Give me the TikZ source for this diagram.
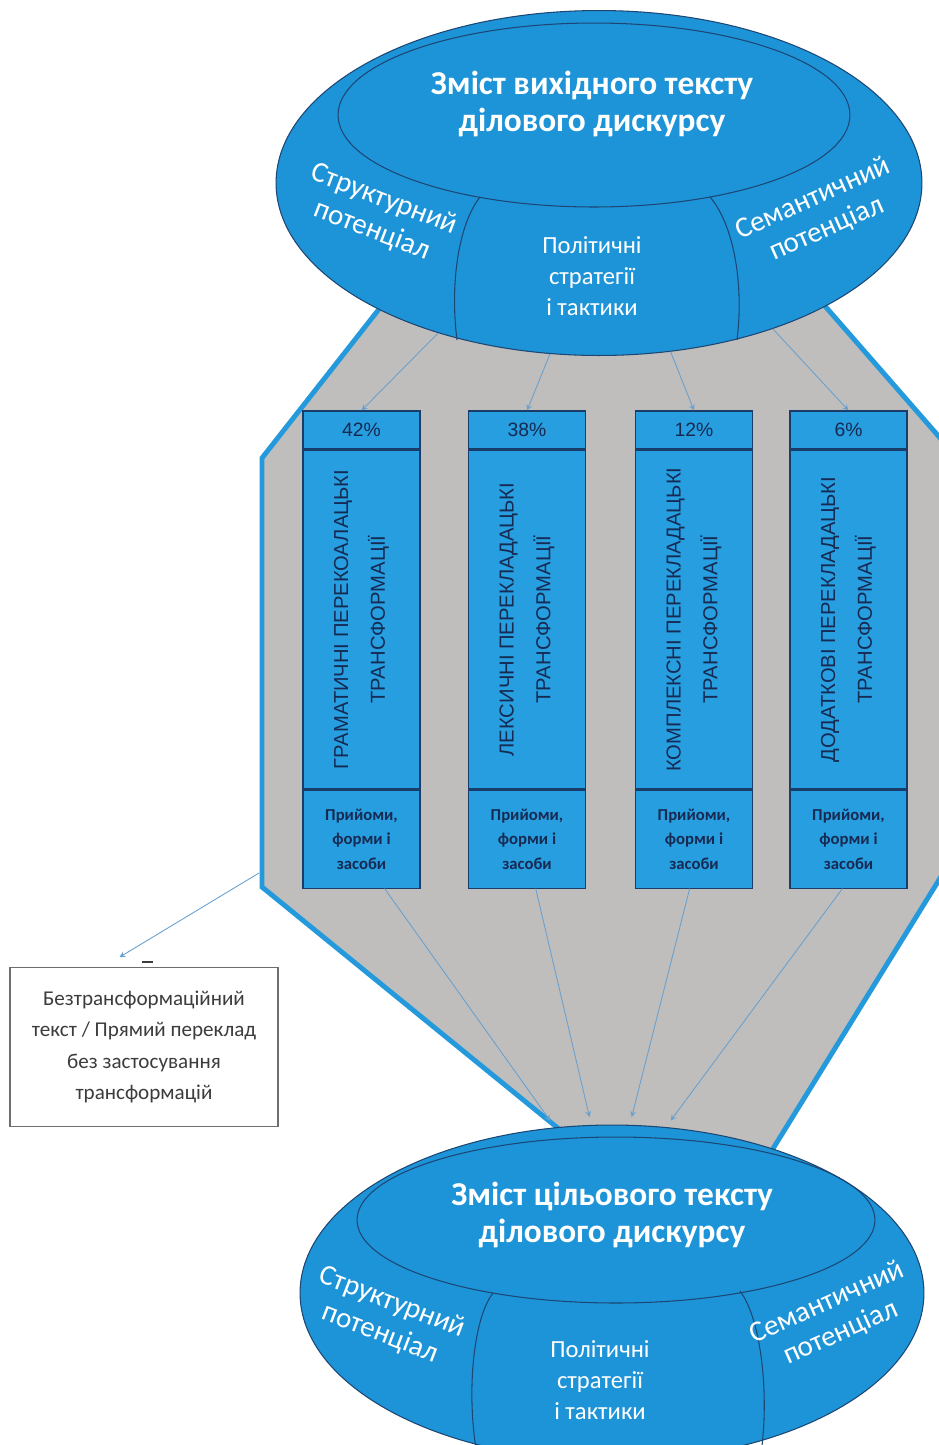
\documentclass[tikz,border=0pt]{standalone}
\usepackage{fontspec}
\setmainfont{Carlito}
\newfontfamily\arialfont{Liberation Sans}
\usepackage{xcolor}
\usepackage{tikz}
\usetikzlibrary{positioning,calc}
\usetikzlibrary{shapes.geometric, arrows}
\definecolor{ovalblue}{RGB}{30,148,216}
\definecolor{boxblue}{RGB}{38,158,224}
\definecolor{ovalline}{RGB}{28,70,115}
\definecolor{boxline}{RGB}{25,60,105}
\definecolor{rimblue}{RGB}{36,154,220}
\definecolor{fieldgray}{RGB}{192,190,188}
\definecolor{flowblue}{RGB}{105,160,205}
\definecolor{boxtext}{RGB}{22,42,82}
\definecolor{plaintext}{RGB}{60,60,60}
\definecolor{plainline}{RGB}{110,110,110}
\tikzstyle{ovalbig} = [ellipse, draw=ovalline, line width=0.6pt, fill=ovalblue, inner sep=0pt]
\tikzstyle{ovalin} = [ellipse, draw=ovalline, line width=0.6pt, inner sep=0pt]
\tikzstyle{ovaltitle} = [white, align=center, font=\bfseries\fontsize{19}{21}\selectfont]
\tikzstyle{ovaltext} = [white, align=center, font=\fontsize{16.5}{19}\selectfont]
\tikzstyle{politext} = [white, align=center, font=\fontsize{14}{17.6}\selectfont]
\tikzstyle{pctbox} = [rectangle, draw=boxline, line width=0.6pt, fill=boxblue, minimum width=2.34cm, minimum height=0.76cm, inner sep=0pt, text=boxtext, font=\arialfont\fontsize{11}{13}\selectfont]
\tikzstyle{typebox} = [pctbox, minimum height=6.78cm]
\tikzstyle{typetext} = [rotate=90, align=center, text=boxtext, font=\arialfont\fontsize{11.5}{21}\selectfont]
\tikzstyle{waybox} = [pctbox, minimum height=1.96cm, align=center, font=\bfseries\fontsize{9.5}{14}\selectfont]
\tikzstyle{plainbox} = [rectangle, draw=plainline, line width=0.6pt, fill=white, minimum width=5.36cm, minimum height=3.18cm, align=center, text=plaintext, font=\fontsize{12}{18}\selectfont]
\tikzstyle{flowarrow} = [->, >=stealth, draw=flowblue, line width=0.5pt]

\begin{document}
\begin{tikzpicture}[x=0.02cm, y=-0.02cm]
    \useasboundingbox (0,0) rectangle (939,1445);
    \clip (0,0) rectangle (939,1445);
    % grey field between the two ovals
    \draw[draw=rimblue, line width=2.8pt, fill=fieldgray, line join=miter] (394,290) -- (262,458) -- (262,887) -- (597,1160) -- (766,1160) -- (955,854) -- (955,455) -- (811,290) -- cycle;
    \coordinate (rimL) at (259,873);
    % source oval
    \node[ovalbig, minimum width=12.92cm, minimum height=6.9cm] (src) at (599,183) {};
    \node[ovalin, minimum width=10.24cm, minimum height=3.68cm] (srcIn) at (594,115) {};
    \draw[ovalline, line width=0.6pt] (480,197) .. controls (458,225) and (450,285) .. (457,340);
    \draw[ovalline, line width=0.6pt] (710,197) .. controls (734,225) and (744,285) .. (737,340);
    \node[ovaltitle] (srcHead) at (592,104) {Зміст вихідного тексту\\ділового дискурсу};
    \node[ovaltext, rotate=-21] (srcStruct) at (378,215) {Структурний\\потенціал};
    \node[politext] (srcPolit) at (592,276) {Політичні\\стратегії\\і тактики};
    \node[ovaltext, rotate=24] (srcSem) at (820,214) {Семантичний\\потенціал};
    % target oval
    \node[ovalbig, minimum width=12.48cm, minimum height=6.72cm] (tgt) at (612,1293) {};
    \node[ovalin, minimum width=10.36cm, minimum height=3.32cm] (tgtIn) at (616,1220) {};
    \draw[ovalline, line width=0.6pt] (493,1293) .. controls (472,1320) and (466,1400) .. (478,1460);
    \draw[ovalline, line width=0.6pt] (740,1291) .. controls (762,1320) and (770,1400) .. (760,1460);
    \node[ovaltitle] (tgtHead) at (612,1215) {Зміст цільового тексту\\ділового дискурсу};
    \node[ovaltext, rotate=-21] (tgtStruct) at (386,1318) {Структурний\\потенціал};
    \node[politext] (tgtPolit) at (600,1380) {Політичні\\стратегії\\і тактики};
    \node[ovaltext, rotate=24] (tgtSem) at (834,1318) {Семантичний\\потенціал};
    % columns
    \node[pctbox] (h1) at (361.5,430) {42\%};
    \node[typebox, below=0pt of h1] (m1) {};
    \node[waybox, below=0pt of m1] (l1) {Прийоми,\\форми і\\засоби};
    \node[typetext] (t1) at (m1) {ГРАМАТИЧНІ ПЕРЕКОАЛАЦЬКІ\\ТРАНСФОРМАЦІЇ};
    \node[pctbox] (h2) at (527,430) {38\%};
    \node[typebox, below=0pt of h2] (m2) {};
    \node[waybox, below=0pt of m2] (l2) {Прийоми,\\форми і\\засоби};
    \node[typetext] (t2) at (m2) {ЛЕКСИЧНІ ПЕРЕКЛАДАЦЬКІ\\ТРАНСФОРМАЦІЇ};
    \node[pctbox] (h3) at (694,430) {12\%};
    \node[typebox, below=0pt of h3] (m3) {};
    \node[waybox, below=0pt of m3] (l3) {Прийоми,\\форми і\\засоби};
    \node[typetext] (t3) at (m3) {КОМПЛЕКСНІ ПЕРЕКЛАДАЦЬКІ\\ТРАНСФОРМАЦІЇ};
    \node[pctbox] (h4) at (848.5,430) {6\%};
    \node[typebox, below=0pt of h4] (m4) {};
    \node[waybox, below=0pt of m4] (l4) {Прийоми,\\форми і\\засоби};
    \node[typetext] (t4) at (m4) {ДОДАТКОВІ ПЕРЕКЛАДАЦЬКІ\\ТРАНСФОРМАЦІЇ};
    % plain box on the left
    \node[plainbox] (plain) at (144,1047) {Безтрансформаційний\\текст / Прямий переклад\\без застосування\\трансформацій};
    \draw[plaintext, line width=1pt] (142,962) -- (153,962);
    % arrows
    \draw[flowarrow] (src.223) -- (h1.north);
    \draw[flowarrow] (src.254) -- (h2.north);
    \draw[flowarrow] (src.293) -- (h3.north);
    \draw[flowarrow] (src.320) -- (h4.north);
    \draw[flowarrow, shorten >=0.16cm] (l1.-65) -- (tgt.109);
    \draw[flowarrow, shorten >=0.16cm] (l2.-80) -- (tgt.97);
    \draw[flowarrow, shorten >=0.16cm] (l3.-95) -- (tgt.84);
    \draw[flowarrow, shorten >=0.16cm] (l4.-97) -- (tgt.72);
    \draw[flowarrow, shorten >=0.38cm] (rimL) -- (plain.117);
\end{tikzpicture}
\end{document}
